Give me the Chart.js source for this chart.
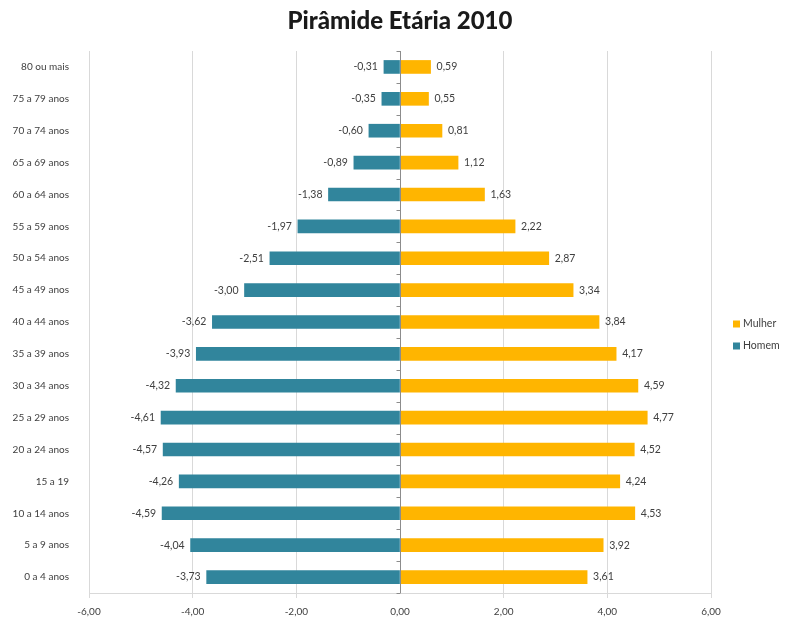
<!DOCTYPE html>
<html lang="pt-BR">
<head>
<meta charset="utf-8">
<title>Pirâmide Etária 2010</title>
<script src="https://cdn.jsdelivr.net/npm/chart.js@4/dist/chart.umd.min.js"></script>
<style>
  html, body { margin: 0; padding: 0; background: #fff; }
  #wrap { width: 797px; height: 622px; position: relative; }
</style>
</head>
<body>
<div id="wrap"><canvas id="piramide"></canvas></div>
<script>
// Faixas etárias, de cima para baixo
const faixas = [
  '80 ou mais', '75 a 79 anos', '70 a 74 anos', '65 a 69 anos', '60 a 64 anos',
  '55 a 59 anos', '50 a 54 anos', '45 a 49 anos', '40 a 44 anos', '35 a 39 anos',
  '30 a 34 anos', '25 a 29 anos', '20 a 24 anos', '15 a 19', '10 a 14 anos',
  '5 a 9 anos', '0 a 4 anos'
];

// Percentual da população (homens negativos para o lado esquerdo)
const homem = [
  -0.31, -0.35, -0.60, -0.89, -1.38, -1.97, -2.51, -3.00, -3.62, -3.93,
  -4.32, -4.61, -4.57, -4.26, -4.59, -4.04, -3.73
];
const mulher = [
  0.59, 0.55, 0.81, 1.12, 1.63, 2.22, 2.87, 3.34, 3.84, 4.17,
  4.59, 4.77, 4.52, 4.24, 4.53, 3.92, 3.61
];

const eixoX = { min: -6, max: 6, passo: 2 };
const TITULO = 'Pirâmide Etária 2010';

const COR_HOMEM = '#31859C';
const COR_MULHER = '#FFB500';
const COR_TEXTO = '#404040';
const FONTE = 'Lato, "DejaVu Sans", sans-serif';

const fmt = (v) => v.toFixed(2).replace('.', ',');

// Título centrado sobre a área de plotagem
const tituloCentral = {
  id: 'tituloCentral',
  afterDraw(chart) {
    const { ctx, chartArea } = chart;
    ctx.save();
    ctx.font = '900 24px ' + FONTE;
    ctx.fillStyle = '#1a1a1a';
    ctx.textAlign = 'center';
    ctx.textBaseline = 'middle';
    ctx.fillText(TITULO, (chartArea.left + chartArea.right) / 2, 21);
    ctx.restore();
  }
};

// Rótulos de valor na ponta de cada barra
const rotulosBarras = {
  id: 'rotulosBarras',
  afterDatasetsDraw(chart) {
    const { ctx } = chart;
    ctx.save();
    ctx.font = '10.5px ' + FONTE;
    ctx.fillStyle = COR_TEXTO;
    ctx.textBaseline = 'middle';
    chart.data.datasets.forEach((ds, i) => {
      chart.getDatasetMeta(i).data.forEach((bar, j) => {
        const v = ds.data[j];
        if (v < 0) {
          ctx.textAlign = 'right';
          ctx.fillText(fmt(v), bar.x - 6, bar.y);
        } else {
          ctx.textAlign = 'left';
          ctx.fillText(fmt(v), bar.x + 6, bar.y);
        }
      });
    });
    ctx.restore();
  }
};

// Eixo vertical no zero, com marcas entre as categorias
const eixoZero = {
  id: 'eixoZero',
  afterDatasetsDraw(chart) {
    const { ctx, chartArea } = chart;
    const x0 = Math.round(chart.scales.x.getPixelForValue(0)) + 0.5;
    const yScale = chart.scales.y;
    const passo = (chartArea.bottom - chartArea.top) / faixas.length;
    ctx.save();
    ctx.strokeStyle = '#8c8c8c';
    ctx.lineWidth = 1;
    ctx.beginPath();
    ctx.moveTo(x0, chartArea.top);
    ctx.lineTo(x0, chartArea.bottom);
    for (let k = 0; k <= faixas.length; k++) {
      const y = Math.round(yScale.top + k * passo) + 0.5;
      ctx.moveTo(x0 - 4, y);
      ctx.lineTo(x0, y);
    }
    ctx.stroke();
    ctx.restore();
  }
};

// Legenda à direita (Mulher acima de Homem)
const legendaLateral = {
  id: 'legendaLateral',
  afterDraw(chart) {
    const { ctx } = chart;
    const itens = [
      { texto: 'Mulher', cor: COR_MULHER, y: 324 },
      { texto: 'Homem', cor: COR_HOMEM, y: 346 }
    ];
    ctx.save();
    ctx.font = '10.5px ' + FONTE;
    ctx.textBaseline = 'middle';
    ctx.textAlign = 'left';
    itens.forEach((it) => {
      ctx.fillStyle = it.cor;
      ctx.fillRect(733, it.y - 3.5, 7, 7);
      ctx.fillStyle = COR_TEXTO;
      ctx.fillText(it.texto, 743, it.y);
    });
    ctx.restore();
  }
};

new Chart(document.getElementById('piramide'), {
  type: 'bar',
  data: {
    labels: faixas,
    datasets: [
      { label: 'Homem', data: homem, backgroundColor: COR_HOMEM, barThickness: 13 },
      { label: 'Mulher', data: mulher, backgroundColor: COR_MULHER, barThickness: 13 }
    ]
  },
  options: {
    indexAxis: 'y',
    responsive: true,
    maintainAspectRatio: false,
    animation: false,
    layout: { padding: { left: 0, right: 86, top: 51, bottom: 0 } },
    plugins: {
      legend: { display: false },
      tooltip: { enabled: false },
      title: { display: false }
    },
    scales: {
      x: {
        stacked: true,
        min: eixoX.min,
        max: eixoX.max,
        afterFit: (s) => { s.height = 29; },
        ticks: {
          stepSize: eixoX.passo,
          color: COR_TEXTO,
          font: { family: FONTE, size: 10 },
          padding: 8,
          callback: (v) => fmt(v)
        },
        grid: {
          color: (c) => (c.tick && c.tick.value === 0 ? 'rgba(0,0,0,0)' : '#d9d9d9'),
          tickLength: 5
        },
        border: { display: true, color: '#d9d9d9' }
      },
      y: {
        stacked: true,
        afterFit: (s) => { s.width = 89; },
        grid: { display: false },
        border: { display: false },
        ticks: {
          color: COR_TEXTO,
          font: { family: FONTE, size: 10 },
          padding: 12
        }
      }
    }
  },
  plugins: [eixoZero, rotulosBarras, legendaLateral, tituloCentral]
});
</script>
</body>
</html>
